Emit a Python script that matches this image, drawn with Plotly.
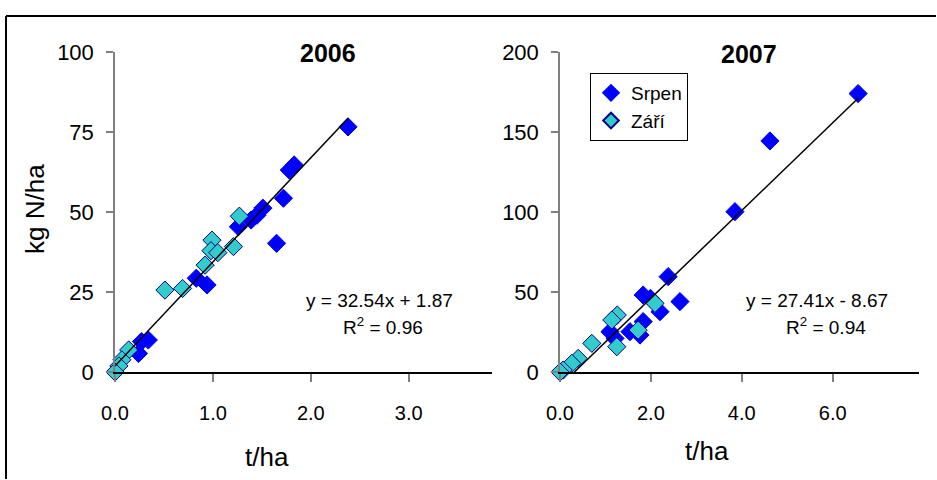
import plotly.graph_objects as go

# ---- data ----
x06_srpen = [2.38, 1.78, 1.83, 1.72, 1.65, 1.51, 1.45, 1.39, 1.26, 0.94, 0.83, 0.34, 0.27, 0.24]
y06_srpen = [76.6, 63.1, 64.7, 54.3, 40.2, 51.2, 49.0, 47.5, 45.4, 27.2, 29.3, 10.0, 9.5, 5.8]
x06_zari = [1.27, 1.21, 0.99, 0.98, 1.05, 0.92, 0.69, 0.51, 0.14, 0.07, 0.04, 0.00]
y06_zari = [48.7, 39.2, 41.2, 37.9, 37.3, 33.4, 26.1, 25.6, 6.9, 3.8, 1.9, 0.0]

x07_srpen = [6.56, 4.62, 3.85, 2.38, 2.64, 1.83, 1.99, 2.20, 1.83, 1.76, 1.54, 1.21, 1.10]
y07_srpen = [174.0, 144.4, 100.2, 59.6, 44.0, 48.1, 46.0, 37.7, 31.5, 23.1, 25.2, 21.0, 25.2]
x07_zari = [2.09, 1.26, 1.14, 1.25, 1.72, 0.70, 0.40, 0.26, 0.07, 0.00]
y07_zari = [42.9, 35.6, 32.5, 15.8, 26.2, 17.9, 8.5, 5.4, 1.2, 0.0]

fit06 = (32.54, 1.87, 0.96)
fit07 = (27.41, -8.67, 0.94)

x06_ticks = [0, 1, 2, 3]
x06_ticktext = ["0.0", "1.0", "2.0", "3.0"]
y06_ticks = [0, 25, 50, 75, 100]
x07_ticks = [0, 2, 4, 6]
x07_ticktext = ["0.0", "2.0", "4.0", "6.0"]
y07_ticks = [0, 50, 100, 150, 200]

W, H = 937, 480
FONT = "Arial, Liberation Sans, sans-serif"
BLUE = "#0000FF"
CYAN = "#33CCCC"
NAVY = "#000080"

def px(x):
    return x / W

def py(y):
    return 1 - y / H

fig = go.Figure()

def add_panel(xs, ys, xz, yz, fit, xa, ya, show):
    fig.add_trace(go.Scatter(x=xs, y=ys, mode="markers", name="Srpen",
                             xaxis=xa, yaxis=ya, showlegend=show, cliponaxis=False,
                             marker=dict(symbol="diamond", size=14, color=BLUE,
                                         line=dict(color=BLUE, width=1))))
    fig.add_trace(go.Scatter(x=xz, y=yz, mode="markers", name="Září",
                             xaxis=xa, yaxis=ya, showlegend=show, cliponaxis=False,
                             marker=dict(symbol="diamond", size=14, color=CYAN,
                                         line=dict(color=NAVY, width=1))))
    allx = xs + xz
    a, b, _ = fit
    x0 = min(allx)
    if a * x0 + b < 0:
        x0 = -b / a
    x1 = max(allx)
    fig.add_trace(go.Scatter(x=[x0, x1], y=[a * x0 + b, a * x1 + b], mode="lines",
                             xaxis=xa, yaxis=ya, showlegend=False, hoverinfo="skip",
                             line=dict(color="black", width=1.5)))

add_panel(x06_srpen, y06_srpen, x06_zari, y06_zari, fit06, "x", "y", False)
add_panel(x07_srpen, y07_srpen, x07_zari, y07_zari, fit07, "x2", "y2", True)

xcommon = dict(showgrid=False, zeroline=False, showline=True, linecolor="black", linewidth=1.5,
               ticks="outside", ticklen=8, tickcolor="#808080", tickwidth=1.5, automargin=False,
               tickfont=dict(family=FONT, size=20, color="black"), ticklabelstandoff=14)
ycommon = dict(showgrid=False, zeroline=False, showline=True, linecolor="#808080", linewidth=1.5,
               ticks="outside", ticklen=7, tickcolor="#808080", tickwidth=1.5, automargin=False,
               tickfont=dict(family=FONT, size=22, color="black"), ticklabelstandoff=8)

fig.update_layout(
    width=W, height=H,
    margin=dict(l=0, r=0, t=0, b=0, pad=0, autoexpand=False),
    paper_bgcolor="white", plot_bgcolor="white",
    xaxis=dict(domain=[px(115), px(492)], range=[0, 3.85], tickvals=x06_ticks,
               ticktext=x06_ticktext, anchor="y", **xcommon),
    yaxis=dict(domain=[py(372), py(52)], range=[0, 100], tickvals=y06_ticks,
               anchor="x", **ycommon),
    xaxis2=dict(domain=[px(560), px(919)], range=[0, 7.9], tickvals=x07_ticks,
                ticktext=x07_ticktext, anchor="y2", **xcommon),
    yaxis2=dict(domain=[py(372), py(52)], range=[0, 200], tickvals=y07_ticks,
                anchor="x2", **ycommon),
    legend=dict(x=px(590), y=py(73), xanchor="left", yanchor="top",
                bgcolor="white", bordercolor="black", borderwidth=1,
                font=dict(family=FONT, size=19, color="black"),
                tracegroupgap=0, itemwidth=30, itemsizing="constant"),
    showlegend=True,
    shapes=[
        dict(type="line", xref="paper", yref="paper", x0=px(6), x1=px(936), y0=py(16), y1=py(16),
             line=dict(color="black", width=2)),
        dict(type="line", xref="paper", yref="paper", x0=px(6), x1=px(6), y0=py(16), y1=py(479),
             line=dict(color="black", width=2)),
    ],
)

ann = [
    dict(text="<b>2006</b>", x=px(328), y=py(53), size=25),
    dict(text="<b>2007</b>", x=px(749), y=py(54), size=25),
    dict(text="y = %.2fx + %.2f" % (fit06[0], fit06[1]), x=px(379), y=py(300), size=19),
    dict(text="R<sup>2</sup> = %.2f" % fit06[2], x=px(383), y=py(326), size=19),
    dict(text="y = %.2fx - %.2f" % (fit07[0], -fit07[1]), x=px(817), y=py(300), size=19),
    dict(text="R<sup>2</sup> = %.2f" % fit07[2], x=px(826), y=py(326), size=19),
    dict(text="t/ha", x=px(267), y=py(457), size=26),
    dict(text="t/ha", x=px(707), y=py(451), size=26),
]
for a in ann:
    fig.add_annotation(text=a["text"], x=a["x"], y=a["y"], xref="paper", yref="paper",
                       xanchor="center", yanchor="middle", showarrow=False,
                       font=dict(family=FONT, size=a["size"], color="black"))
fig.add_annotation(text="kg N/ha", x=px(35), y=py(209), xref="paper", yref="paper",
                   xanchor="center", yanchor="middle", showarrow=False, textangle=-90,
                   font=dict(family=FONT, size=26, color="black"))

fig.write_html("out.html")
